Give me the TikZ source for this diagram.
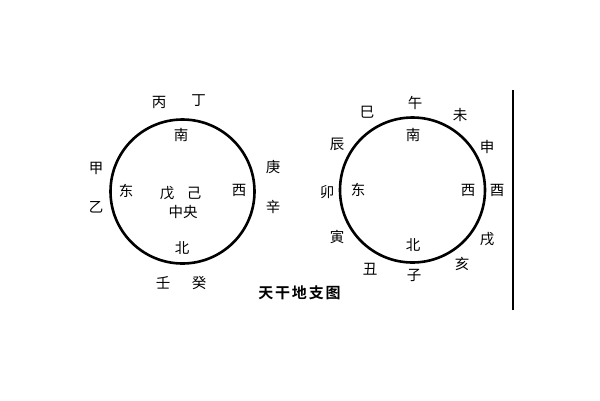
\documentclass[tikz,border=0pt]{standalone}
\usepackage{fontspec}
\newfontfamily\cjk{Noto Sans CJK SC}
\newfontfamily\cjkb[LetterSpace=12]{Noto Sans CJK SC Bold}
\begin{document}
\begin{tikzpicture}[x=1pt,y=-1pt,
  lab/.style={font=\cjk\fontsize{14.5}{15}\selectfont,inner sep=0pt},
  ttl/.style={font=\cjkb\fontsize{15}{16}\selectfont,inner sep=0pt},
  ring/.style={draw=black,line width=2.6pt}]
\useasboundingbox[fill=white] (0,0) rectangle (600,400);
% left circle
\node[ring,circle,minimum size=144pt,inner sep=0pt] (L) at (182.5,191.5) {};
\node[lab] (bing) at (159,102) {丙};
\node[lab] (ding) at (198.5,101) {丁};
\node[lab] (lnan) at (181,135) {南};
\node[lab] (jia) at (96,168) {甲};
\node[lab] (yi) at (96,207) {乙};
\node[lab] (ldong) at (126,191) {东};
\node[lab] (wu) at (167,193) {戊};
\node[lab] (ji) at (194,193) {己};
\node[lab] (zy) at (183,212) {中央};
\node[lab] (lxi) at (239,190) {西};
\node[lab] (geng) at (273,167) {庚};
\node[lab] (xin) at (273,207) {辛};
\node[lab] (lbei) at (182,248) {北};
\node[lab] (ren) at (163,283) {壬};
\node[lab] (gui) at (199,283) {癸};
% title
\node[ttl] (title) at (299.5,293) {天干地支图};
% right circle
\node[ring,circle,minimum size=145pt,inner sep=0pt] (R) at (412.5,190) {};
\node[lab] (wu2) at (415,103) {午};
\node[lab] (si) at (367,112) {巳};
\node[lab] (wei) at (460,115) {未};
\node[lab] (rnan) at (413,135) {南};
\node[lab] (chen) at (337,144) {辰};
\node[lab] (shen) at (487,147) {申};
\node[lab] (mao) at (327,192) {卯};
\node[lab] (rdong) at (358,190) {东};
\node[lab] (rxi) at (468,190) {西};
\node[lab] (you) at (497,190) {酉};
\node[lab] (yin) at (337,237) {寅};
\node[lab] (xu) at (487,239) {戌};
\node[lab] (rbei) at (413,245) {北};
\node[lab] (chou) at (370,269) {丑};
\node[lab] (zi) at (414,275) {子};
\node[lab] (hai) at (462,264) {亥};
% vertical line
\coordinate (vt) at (512.7,90);
\coordinate (vb) at (512.7,310);
\draw[line width=2.4pt] (vt) -- (vb);
\end{tikzpicture}
\end{document}
